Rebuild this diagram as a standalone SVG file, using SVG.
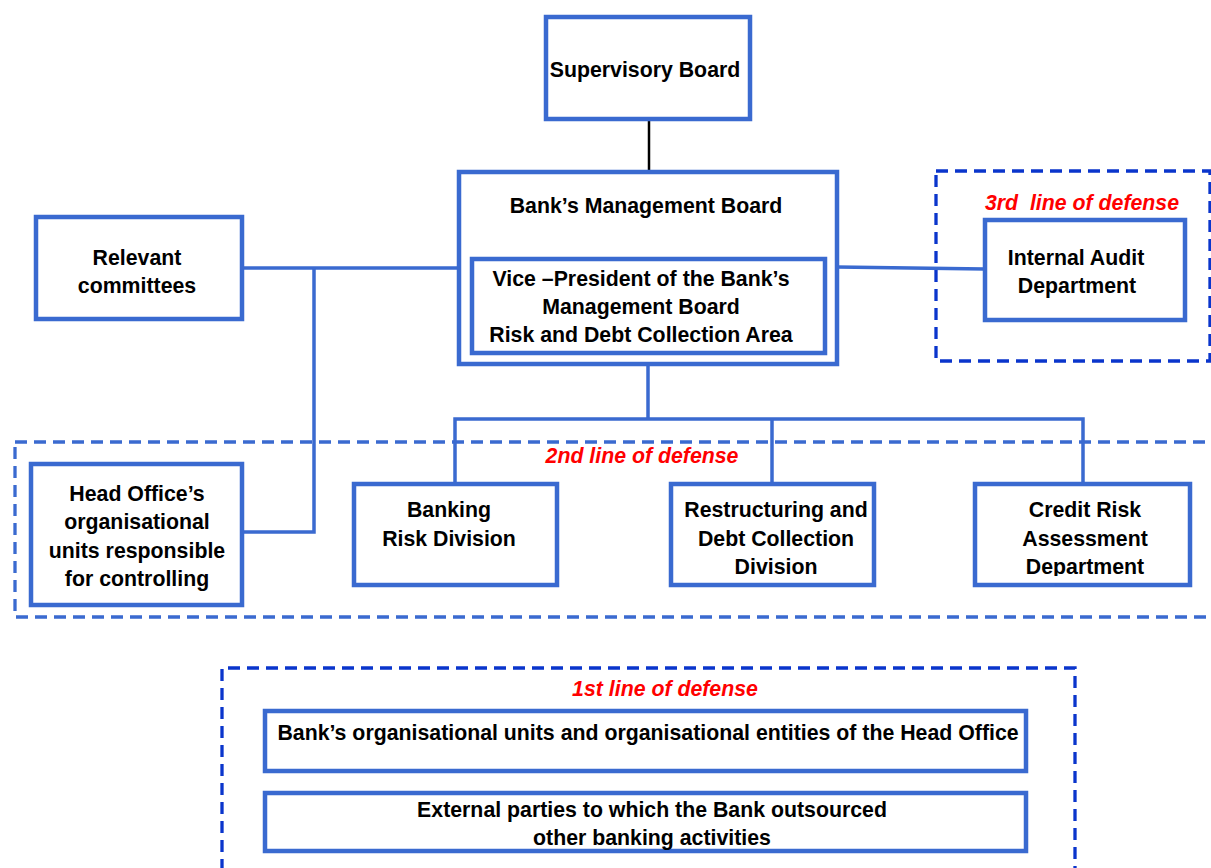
<svg xmlns="http://www.w3.org/2000/svg" width="1211" height="868" viewBox="0 0 1211 868">
<style>
.box{fill:#fff;stroke:#3A6AD0;stroke-width:4.5}
.ln{fill:none;stroke:#3A6AD0;stroke-width:3.5}
.dash2{fill:none;stroke:#3A6AD0;stroke-width:3.3;stroke-dasharray:12 7}
.dash1{fill:none;stroke:#0A35CC;stroke-width:3.3;stroke-dasharray:12 7}
text{font-family:"Liberation Sans",Arial,sans-serif;font-weight:bold;font-size:21.3px;fill:#000;text-anchor:middle}
.red{fill:#FF0000;font-style:italic;white-space:pre}
</style>
<defs>
<clipPath id="clipB"><rect x="660" y="480" width="540" height="96"/></clipPath>
</defs>
<rect width="1211" height="868" fill="#fff"/>
<g id="zones">
<rect class="dash2" x="15" y="442" width="1230" height="175"/>
<rect class="dash1" x="936" y="171" width="274" height="190"/>
<path class="dash1" d="M222 890 V668 H1075 V890"/>
</g>
<g id="connectors">
<line x1="649" y1="121" x2="649" y2="172" stroke="#000" stroke-width="2.5"/>
<path class="ln" d="M244 268 H459"/>
<path class="ln" d="M314 268 V532 H244"/>
<path class="ln" d="M837 267 L985 269"/>
<path class="ln" d="M648 355 V419"/>
<path class="ln" d="M455 484 V419 H1083 V484"/>
<path class="ln" d="M772 419 V484"/>
</g>
<g id="supervisory-board">
<rect class="box" x="546" y="17" width="204" height="102"/>
<text x="645" y="77">Supervisory Board</text>
</g>
<g id="management-board">
<rect class="box" x="459" y="172" width="378" height="192"/>
<text x="646" y="213">Bank’s Management Board</text>
</g>
<g id="vice-president">
<rect class="box" x="472" y="259" width="353" height="94"/>
<text x="641" y="286">Vice –President of the Bank’s</text>
<text x="641" y="314">Management Board</text>
<text x="641" y="342">Risk and Debt Collection Area</text>
</g>
<g id="relevant-committees">
<rect class="box" x="36" y="217" width="206" height="102"/>
<text x="137" y="265">Relevant</text>
<text x="137" y="293">committees</text>
</g>
<g id="internal-audit">
<text class="red" x="1082" y="210" xml:space="preserve">3rd  line of defense</text>
<rect class="box" x="985" y="220" width="200" height="100"/>
<text x="1076" y="265">Internal Audit</text>
<text x="1077" y="293">Department</text>
</g>
<text class="red" x="642" y="463">2nd line of defense</text>
<g id="head-office-controlling">
<rect class="box" x="31" y="464" width="211" height="141"/>
<text x="137" y="501">Head Office’s</text>
<text x="137" y="529">organisational</text>
<text x="137" y="558">units responsible</text>
<text x="137" y="586">for controlling</text>
</g>
<g id="banking-risk">
<rect class="box" x="354" y="484" width="203" height="101"/>
<text x="449" y="517">Banking</text>
<text x="449" y="546">Risk Division</text>
</g>
<g id="restructuring">
<rect class="box" x="671" y="484" width="203" height="101"/>
<g clip-path="url(#clipB)">
<text x="776" y="517">Restructuring and</text>
<text x="776" y="546">Debt Collection</text>
<text x="776" y="574">Division</text>
</g>
</g>
<g id="credit-risk">
<rect class="box" x="975" y="484" width="215" height="101"/>
<g clip-path="url(#clipB)">
<text x="1085" y="517">Credit Risk</text>
<text x="1085" y="546">Assessment</text>
<text x="1085" y="574">Department</text>
</g>
</g>
<text class="red" x="665" y="696">1st line of defense</text>
<g id="bank-units">
<rect class="box" x="265" y="711" width="761" height="60"/>
<text x="648" y="740">Bank’s organisational units and organisational entities of the Head Office</text>
</g>
<g id="external-parties">
<rect class="box" x="265" y="793" width="761" height="58"/>
<text x="652" y="817">External parties to which the Bank outsourced</text>
<text x="652" y="845">other banking activities</text>
</g>
</svg>
